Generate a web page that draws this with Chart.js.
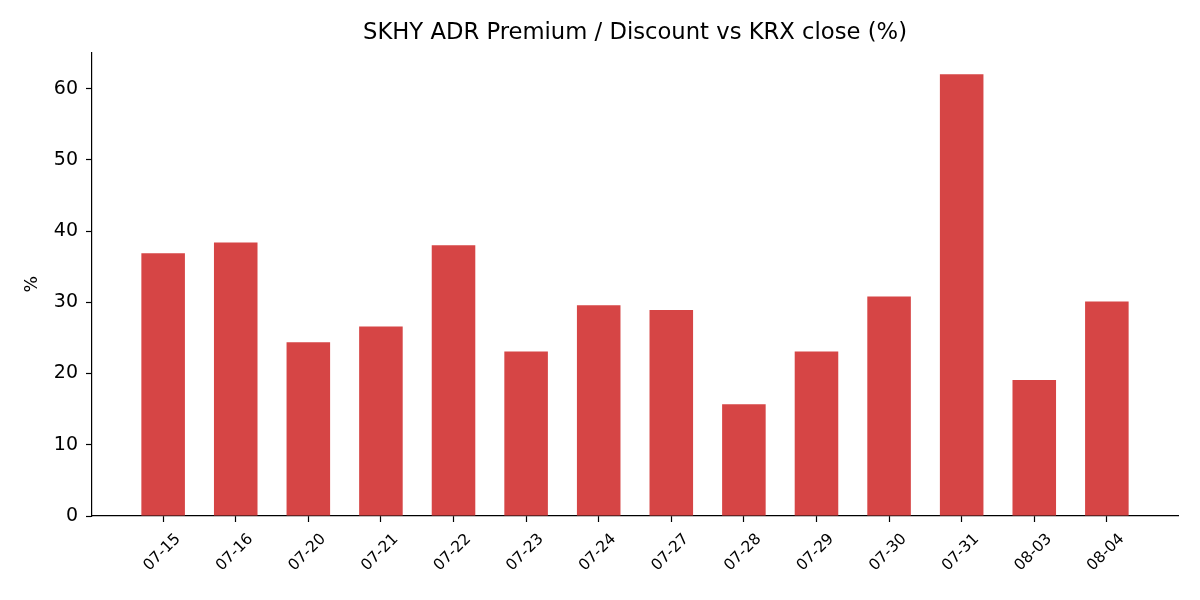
<!DOCTYPE html>
<html>
<head>
<meta charset="utf-8">
<script src="https://cdn.jsdelivr.net/npm/chart.js@4/dist/chart.umd.min.js"></script>
<style>
    html, body { margin: 0; padding: 0; background: #fff; }
    #wrap { width: 1200px; height: 600px; position: relative; }
</style>
</head>
<body>
<div id="wrap"><canvas id="premiumChart"></canvas></div>
<script>
/* =====================================================
   DATA
===================================================== */

const dates = [
    "07-15", "07-16", "07-20", "07-21", "07-22", "07-23", "07-24",
    "07-27", "07-28", "07-29", "07-30", "07-31", "08-03", "08-04"
];

const premiumPct = [
    36.9, 38.4, 24.4, 26.6, 38.0, 23.1, 29.6,
    28.9, 15.7, 23.1, 30.8, 62.0, 19.1, 30.1
];

const yTicks = [0, 10, 20, 30, 40, 50, 60];

const barColor = "#d64545";
const fontFamily = "'DejaVu Sans', sans-serif";


/* =====================================================
   CHART
===================================================== */

const points = dates.map((d, i) => ({ x: i, y: premiumPct[i] }));

new Chart(document.getElementById("premiumChart"), {
    type: "bar",
    data: {
        datasets: [{
            data: points,
            backgroundColor: barColor,
            borderWidth: 0,
            categoryPercentage: 1,
            barPercentage: 0.6
        }]
    },
    options: {
        responsive: true,
        maintainAspectRatio: false,
        animation: false,
        layout: { padding: { left: 0, right: 22, top: 0, bottom: 0 } },
        plugins: {
            legend: { display: false },
            tooltip: { enabled: false },
            title: {
                display: true,
                text: "SKHY ADR Premium / Discount vs KRX close (%)",
                fullSize: false,
                color: "#000",
                font: { family: fontFamily, size: 22.7, weight: "normal", lineHeight: 1.2 },
                padding: { top: 19, bottom: 6 }
            }
        },
        scales: {
            x: {
                type: "linear",
                min: -0.98,
                max: 13.98,
                offset: false,
                afterBuildTicks: s => { s.ticks = dates.map((d, i) => ({ value: i })); },
                afterFit: s => { s.height = 84; },
                grid: {
                    display: true,
                    offset: false,
                    drawOnChartArea: false,
                    drawTicks: true,
                    tickLength: 6,
                    tickColor: "#000",
                    tickWidth: 1.2
                },
                border: { display: true, color: "#000", width: 1.2 },
                ticks: {
                    autoSkip: false,
                    minRotation: 45,
                    maxRotation: 45,
                    labelOffset: 15,
                    padding: 8,
                    color: "#000",
                    font: { family: fontFamily, size: 15.5 },
                    callback: v => dates[v] ?? ""
                }
            },
            y: {
                min: 0,
                max: 65.1,
                afterBuildTicks: s => { s.ticks = yTicks.map(v => ({ value: v })); },
                afterFit: s => { s.width = 92; },
                grid: {
                    display: true,
                    drawOnChartArea: false,
                    drawTicks: true,
                    tickLength: 6,
                    tickColor: "#000",
                    tickWidth: 1.2
                },
                border: { display: true, color: "#000", width: 1.2 },
                ticks: {
                    padding: 8,
                    color: "#000",
                    font: { family: fontFamily, size: 19 }
                },
                title: {
                    display: true,
                    text: "%",
                    color: "#000",
                    font: { family: fontFamily, size: 17.5 },
                    padding: { top: 22, bottom: 0 }
                }
            }
        }
    }
});
</script>
</body>
</html>
